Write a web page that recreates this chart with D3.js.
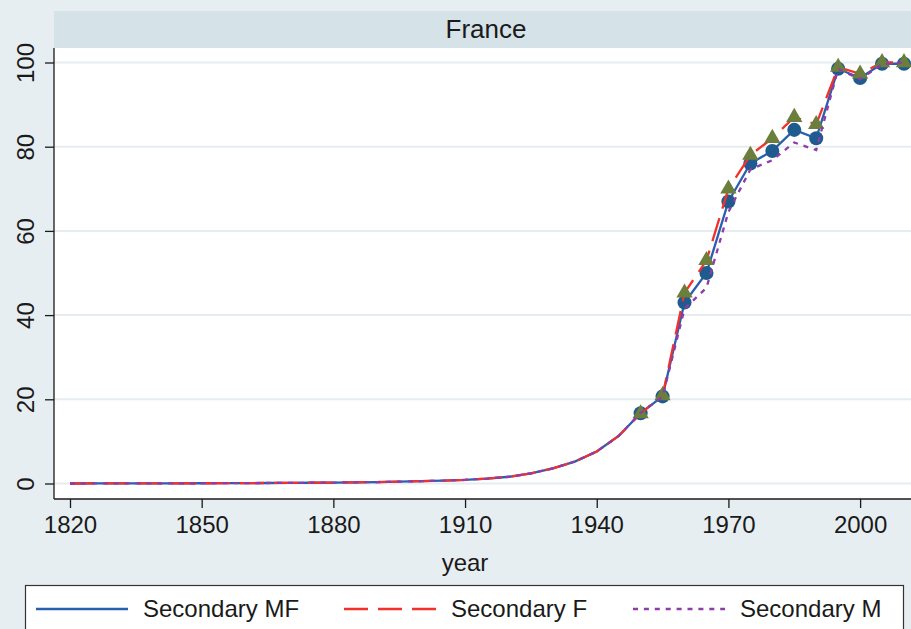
<!DOCTYPE html>
<html>
<head>
<meta charset="utf-8">
<script src="https://cdn.jsdelivr.net/npm/d3@7"></script>
<style>
  html, body { margin: 0; padding: 0; background: #e7eef1; }
  svg { display: block; font-family: "Liberation Sans", Arial, Helvetica, sans-serif; }
</style>
</head>
<body>
<svg id="chart" width="911" height="629"></svg>
<script>
// ---- data ----
const years = [1820,1825,1830,1835,1840,1845,1850,1855,1860,1865,1870,1875,1880,1885,1890,1895,1900,1905,1910,1915,1920,1925,1930,1935,1940,1945,1950,1955,1960,1965,1970,1975,1980,1985,1990,1995,2000,2005,2010];
const secondaryMF = [0,0.01,0.02,0.03,0.04,0.05,0.06,0.08,0.1,0.12,0.15,0.18,0.22,0.28,0.35,0.44,0.55,0.68,0.85,1.15,1.6,2.4,3.6,5.2,7.6,11.3,16.7,20.7,43,50,67,76,79,84,82,98.5,96.3,99.7,99.7];
const secondaryF  = [0,0.01,0.02,0.03,0.04,0.05,0.06,0.08,0.1,0.12,0.15,0.18,0.22,0.28,0.35,0.44,0.55,0.68,0.85,1.15,1.6,2.4,3.6,5.2,7.6,11.3,16.6,20.9,45.3,53,70,78,82,87,85.3,98.9,97.3,100,100];
const secondaryM  = [0,0.01,0.02,0.03,0.04,0.05,0.06,0.08,0.1,0.12,0.15,0.18,0.22,0.28,0.35,0.44,0.55,0.68,0.85,1.15,1.6,2.4,3.6,5.2,7.6,11.3,16.8,20.6,41.5,46.5,64.5,74.6,76.8,81,79.2,98.5,96,99.6,100];
const seriesNames = ["Secondary MF", "Secondary F", "Secondary M"];
const xTicks = [1820,1850,1880,1910,1940,1970,2000];
const yTicks = [0,20,40,60,80,100];
const panelTitle = "France";
const xLabel = "year";
const markerFromYear = 1950;

// ---- layout ----
const svg = d3.select("#chart");
const plot = { left: 54, right: 920, top: 48, bottom: 499 };
const strip = { top: 11, bottom: 48 };

const x = d3.scaleLinear().domain([1820, 2010]).range([70, 904]);
const y = d3.scaleLinear().domain([0, 100]).range([483.5, 62.5]);

// strip
svg.append("rect").attr("x", plot.left).attr("y", strip.top)
  .attr("width", plot.right - plot.left).attr("height", strip.bottom - strip.top)
  .attr("fill", "#d5e2e8");
svg.append("text").attr("x", (plot.left + plot.right) / 2 - 1).attr("y", 37.5)
  .attr("text-anchor", "middle").attr("font-size", 26).attr("fill", "#1a1a1a")
  .text(panelTitle);

// plot area
svg.append("rect").attr("x", plot.left).attr("y", plot.top)
  .attr("width", plot.right - plot.left).attr("height", plot.bottom - plot.top)
  .attr("fill", "#ffffff");

// gridlines
svg.append("g").selectAll("line").data(yTicks).join("line")
  .attr("x1", plot.left).attr("x2", plot.right)
  .attr("y1", d => y(d)).attr("y2", d => y(d))
  .attr("stroke", "#e6edf0").attr("stroke-width", 2);

// axes
const yAxis = d3.axisLeft(y).tickValues(yTicks).tickSize(9).tickPadding(4).tickFormat(d3.format("d"));
const gy = svg.append("g").attr("transform", `translate(${plot.left},0)`).call(yAxis);
gy.select(".domain").remove();
gy.append("line").attr("x1", 0).attr("x2", 0).attr("y1", plot.top).attr("y2", plot.bottom)
  .attr("stroke", "#1a1a1a").attr("stroke-width", 1.3);
gy.selectAll(".tick line").attr("stroke", "#1a1a1a").attr("stroke-width", 1.3);
gy.selectAll(".tick text")
  .attr("font-size", 24).attr("fill", "#1a1a1a")
  .attr("x", null).attr("dy", null)
  .attr("text-anchor", "middle")
  .attr("transform", "translate(-20,0) rotate(-90)")
  .attr("y", 0).attr("dominant-baseline", "auto");

const xAxis = d3.axisBottom(x).tickValues(xTicks).tickSize(9).tickPadding(6).tickFormat(d3.format("d"));
const gx = svg.append("g").attr("transform", `translate(0,${plot.bottom})`).call(xAxis);
gx.select(".domain").remove();
gx.append("line").attr("x1", plot.left).attr("x2", plot.right).attr("y1", 0).attr("y2", 0)
  .attr("stroke", "#1a1a1a").attr("stroke-width", 1.3);
gx.selectAll(".tick line").attr("stroke", "#1a1a1a").attr("stroke-width", 1.3);
gx.selectAll(".tick text").attr("font-size", 24).attr("fill", "#1a1a1a").attr("dy", null).attr("y", 34);

svg.append("text").attr("x", 465).attr("y", 571).attr("text-anchor", "middle")
  .attr("font-size", 24).attr("fill", "#1a1a1a").text(xLabel);

// series
const series = [
  { name: seriesNames[0], values: secondaryMF, color: "#2a5fb0", dash: null, width: 2.3, marker: "circle", mcolor: "#1f5b8e" },
  { name: seriesNames[1], values: secondaryF,  color: "#f2312b", dash: "24,10", width: 2.3, marker: "triangle", mcolor: "#6b7e3b" },
  { name: seriesNames[2], values: secondaryM,  color: "#8e3ca8", dash: "5,5.9", width: 2.3, marker: null, mcolor: null }
];

const line = d3.line().x(d => x(d.year)).y(d => y(d.v));
const gData = svg.append("g");
series.forEach(s => {
  const pts = years.map((yr, i) => ({ year: yr, v: s.values[i] }));
  gData.append("path").datum(pts).attr("d", line)
    .attr("fill", "none").attr("stroke", s.color).attr("stroke-width", s.width)
    .attr("stroke-dasharray", s.dash);
  const mk = pts.filter(p => p.year >= markerFromYear);
  if (s.marker === "circle") {
    gData.append("g").selectAll("path").data(mk).join("path")
      .attr("d", d3.symbol().type(d3.symbolCircle).size(155))
      .attr("transform", d => `translate(${x(d.year)},${y(d.v)})`)
      .attr("fill", s.mcolor);
  } else if (s.marker === "triangle") {
    gData.append("g").selectAll("path").data(mk).join("path")
      .attr("d", d3.symbol().type(d3.symbolTriangle).size(115))
      .attr("transform", d => `translate(${x(d.year)},${y(d.v)})`)
      .attr("fill", s.mcolor);
  }
});

// legend
const leg = svg.append("g");
leg.append("rect").attr("x", 25.5).attr("y", 585.5).attr("width", 878).attr("height", 80)
  .attr("fill", "#ffffff").attr("stroke", "#333333").attr("stroke-width", 1.2);
const legPos = [36, 344, 633];
series.forEach((s, i) => {
  leg.append("line").attr("x1", legPos[i]).attr("x2", legPos[i] + 92)
    .attr("y1", 609).attr("y2", 609)
    .attr("stroke", s.color).attr("stroke-width", 2.3).attr("stroke-dasharray", s.dash);
  leg.append("text").attr("x", legPos[i] + 107).attr("y", 617)
    .attr("font-size", 24).attr("fill", "#1a1a1a").text(s.name);
});
</script>
</body>
</html>
